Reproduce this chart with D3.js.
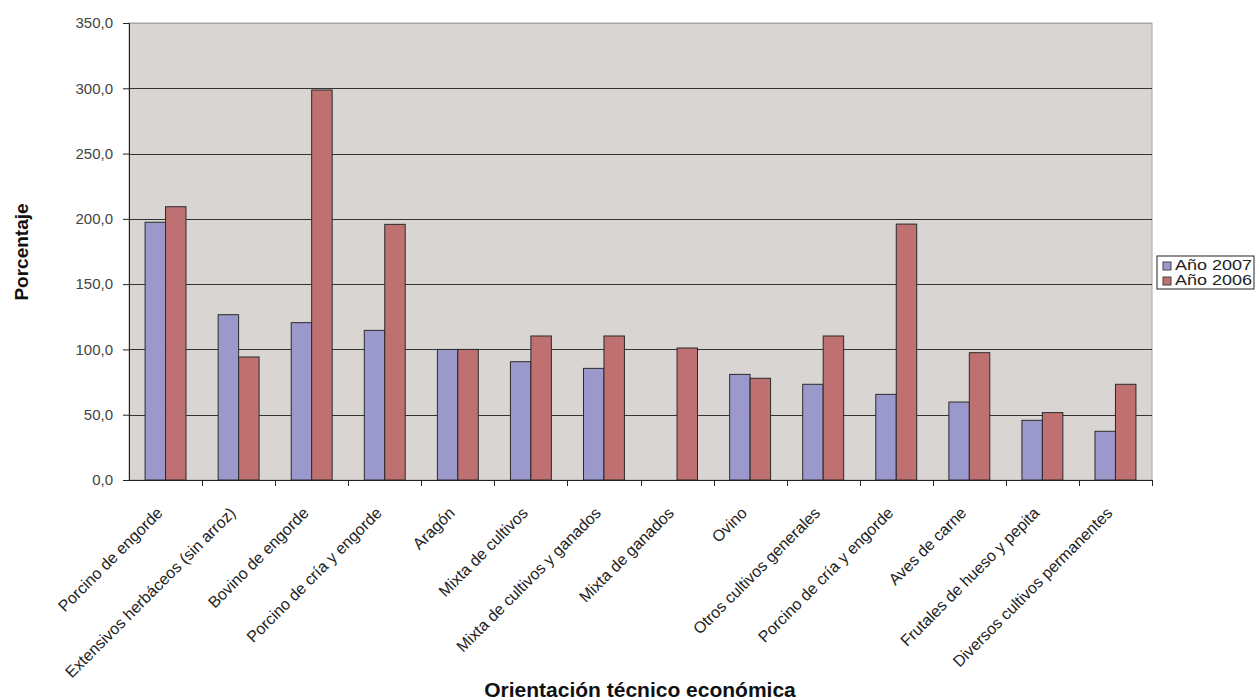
<!DOCTYPE html>
<html><head><meta charset="utf-8">
<script src="https://cdn.jsdelivr.net/npm/d3@7"></script>
<style>body{margin:0;background:#fff}svg{display:block}text{font-family:"Liberation Sans",Arial,sans-serif}</style>
</head><body><svg id="c" width="1255" height="700"></svg>
<script>
const categories = ["Porcino de engorde","Extensivos herbáceos (sin arroz)","Bovino de engorde","Porcino de cría y engorde","Aragón","Mixta de cultivos","Mixta de cultivos y ganados","Mixta de ganados","Ovino","Otros cultivos generales","Porcino de cría y engorde ","Aves de carne","Frutales de hueso y pepita","Diversos cultivos permanentes"];
const labels = ["Porcino de engorde","Extensivos herbáceos (sin arroz)","Bovino de engorde","Porcino de cría y engorde","Aragón","Mixta de cultivos","Mixta de cultivos y ganados","Mixta de ganados","Ovino","Otros cultivos generales","Porcino de cría y engorde","Aves de carne","Frutales de hueso y pepita","Diversos cultivos permanentes"];
const series = ["Año 2007","Año 2006"];
const values2007 = [197.4,126.6,120.5,114.6,100.0,90.6,85.5,0,80.9,73.3,65.6,59.7,45.7,37.3];
const values2006 = [209.3,94.2,298.7,195.8,100.0,110.3,110.3,101.1,77.9,110.3,196.0,97.5,51.6,73.3];
const yTicks = [0,50,100,150,200,250,300,350];
const colors = ["#9b98cc","#bf7171"];

const svg = d3.select("#c");
const L=129, R=1152, T=23, B=480;
const x0 = d3.scaleBand().domain(categories).range([L,R]).padding(0);
const bw = x0.bandwidth();
const x1 = d3.scaleBand().domain(series).range([bw*0.22, bw*0.78]).padding(0);
const y = d3.scaleLinear().domain([0,350]).range([B,T]);

svg.append("rect").attr("x",L).attr("y",T).attr("width",R-L).attr("height",B-T).attr("fill","#d9d5d2").attr("stroke","#a8a6a4");
svg.append("g").selectAll("line").data(yTicks.filter(d=>d>0)).join("line")
  .attr("x1",L).attr("x2",R).attr("y1",d=>Math.round(y(d))+0.5).attr("y2",d=>Math.round(y(d))+0.5)
  .attr("stroke",d=>d===350?"#a8a6a4":"#333").attr("stroke-width",1);

const data = categories.map((c,i)=>({c, v:[values2007[i],values2006[i]]}));
const g = svg.append("g").selectAll("g").data(data).join("g").attr("transform",d=>`translate(${x0(d.c)},0)`);
g.selectAll("rect").data(d=>d.v.map((v,j)=>({s:series[j],v,j}))).join("rect")
  .filter(d=>d.v>0)
  .attr("x",d=>x1(d.s)).attr("width",x1.bandwidth())
  .attr("y",d=>y(d.v)).attr("height",d=>B-y(d.v))
  .attr("fill",d=>colors[d.j]).attr("stroke","#2a2a2a").attr("stroke-width",1);

const yAxis = d3.axisLeft(y).tickValues(yTicks).tickSize(6).tickPadding(10).tickFormat(d=>d3.format(".1f")(d).replace(".",","));
const ya = svg.append("g").attr("transform",`translate(${L},0)`).call(yAxis);
ya.select(".domain").attr("stroke","#222");
ya.selectAll(".tick line").attr("stroke","#222");
ya.selectAll("text").attr("font-size",15).attr("fill","#444").attr("font-family","Liberation Sans, Arial, sans-serif");

const xa = svg.append("g").attr("transform",`translate(0,${B})`);
xa.append("line").attr("x1",L).attr("x2",R).attr("y1",0.5).attr("y2",0.5).attr("stroke","#222");
const bounds = categories.map(c=>x0(c)+bw);
xa.selectAll("line.t").data(bounds).join("line").attr("class","t")
  .attr("x1",d=>Math.round(d)+0.5).attr("x2",d=>Math.round(d)+0.5).attr("y1",0).attr("y2",6).attr("stroke","#222");
xa.selectAll("text").data(categories).join("text")
  .attr("transform",(c)=>`translate(${x0(c)+bw/2-2},${34}) rotate(-45)`)
  .attr("text-anchor","end").attr("font-size",16).attr("fill","#222")
  .text((c,i)=>labels[i]);

svg.append("text").attr("x",640).attr("y",697).attr("text-anchor","middle").attr("font-size",21).attr("font-weight","bold").attr("fill","#111").text("Orientación técnico económica");
svg.append("text").attr("transform","translate(28,252) rotate(-90)").attr("text-anchor","middle").attr("font-size",19).attr("font-weight","bold").attr("fill","#111").text("Porcentaje");

const lg = svg.append("g").attr("transform","translate(1157,256)");
lg.append("rect").attr("width",97).attr("height",33).attr("fill","#fff").attr("stroke","#222");
series.forEach((s,i)=>{
  lg.append("rect").attr("x",6).attr("y",6+i*15).attr("width",8).attr("height",8).attr("fill",colors[i]).attr("stroke","#444");
  lg.append("text").attr("x",18).attr("y",14+i*15).attr("font-size",15).attr("fill","#222")
    .attr("textLength",77).attr("lengthAdjust","spacingAndGlyphs").text(s);
});
</script></body></html>
